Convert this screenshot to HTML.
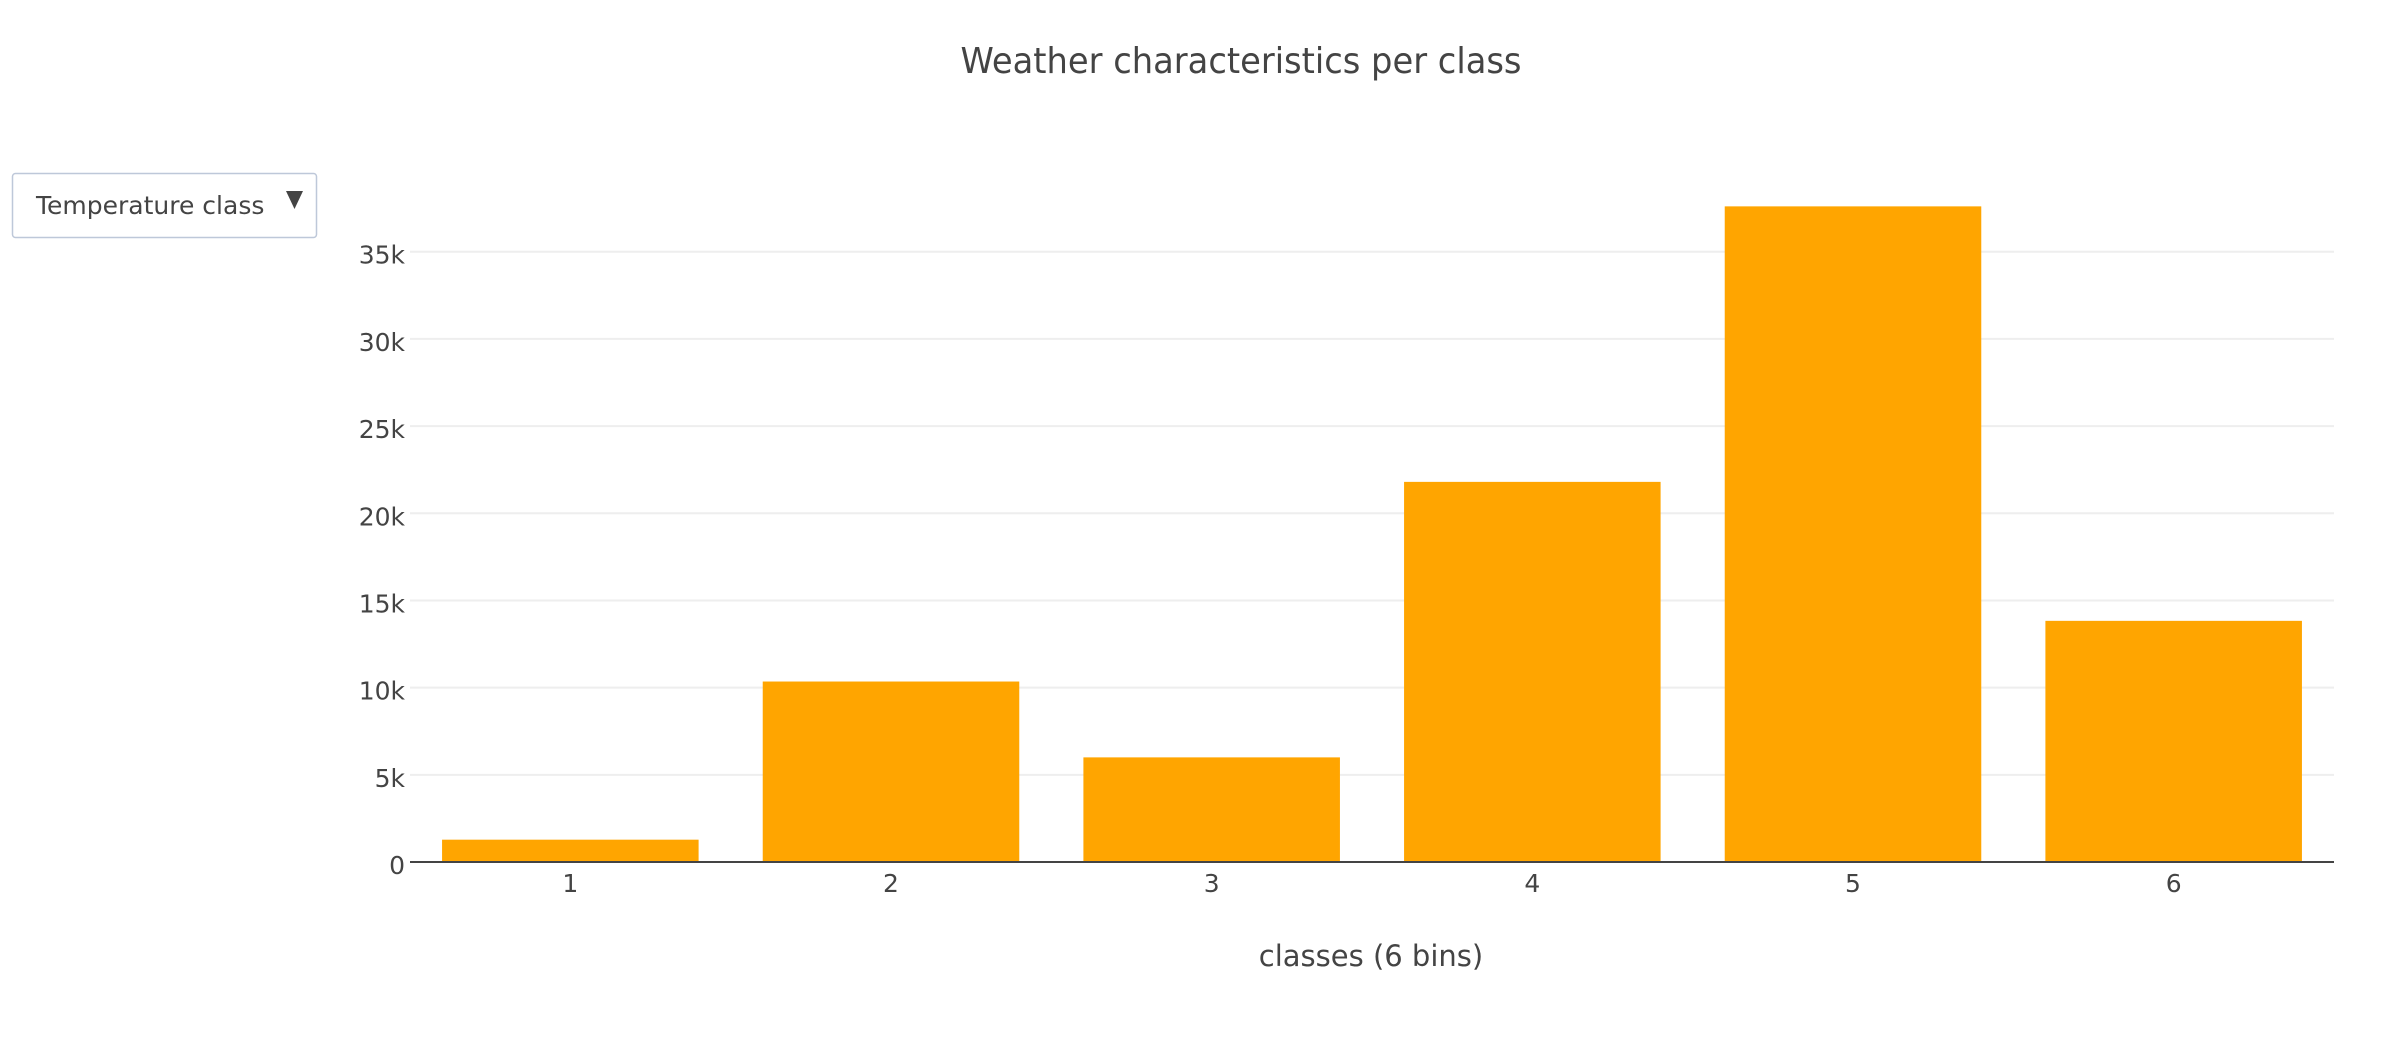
<!DOCTYPE html>
<html><head><meta charset="utf-8"><style>
html,body{margin:0;padding:0;background:#fff;width:2406px;height:1038px;overflow:hidden}
text{font-family:"DejaVu Sans","Liberation Sans",sans-serif;fill:#444}
</style></head><body>
<svg id="chart" width="2406" height="1038" xmlns="http://www.w3.org/2000/svg">
<text x="1241" y="73" font-size="36" text-anchor="middle" textLength="561" lengthAdjust="spacingAndGlyphs">Weather characteristics per class</text>
<g id="grid"></g>
<g id="bars"></g>
<g id="yticks"></g>
<g id="xticks"></g>
<line x1="410" x2="2334" y1="862" y2="862" stroke="#444" stroke-width="2"/>
<text x="1371" y="966" font-size="29" text-anchor="middle">classes (6 bins)</text>
<g>
<rect x="12.5" y="173.5" width="304" height="64" rx="3" fill="#fff" stroke="#bec8d9" stroke-width="1.5"/>
<text x="36" y="214" font-size="25">Temperature class</text>
<path d="M286 191 L303 191 L294.5 209 Z" fill="#444"/>
</g>
</svg>
<script>
const categories = ["1","2","3","4","5","6"];
const values = [1280, 10350, 6000, 21800, 37600, 13830];
const yTicks = [0, 5000, 10000, 15000, 20000, 25000, 30000, 35000];
const yTickLabels = ["0","5k","10k","15k","20k","25k","30k","35k"];

const NS = "http://www.w3.org/2000/svg";
const plotL = 410, plotR = 2334, y0 = 862, pxPer = (862 - 251.7) / 35000;
const band = (plotR - plotL) / categories.length;
function yScale(v){ return y0 - v * pxPer; }
function xCenter(i){ return plotL + band * (i + 0.5); }

const grid = document.getElementById('grid');
const yt = document.getElementById('yticks');
yTicks.forEach((t, i) => {
  if (t > 0) {
    const l = document.createElementNS(NS, 'line');
    
    
    l.setAttribute('x1', plotL); l.setAttribute('x2', plotR);
    l.setAttribute('y1', yScale(t)); l.setAttribute('y2', yScale(t));
    l.setAttribute('stroke', '#eee'); l.setAttribute('stroke-width', '2');
    grid.appendChild(l);
  }
  const tx = document.createElementNS(NS, 'text');
  
  
  tx.setAttribute('x', 405); tx.setAttribute('y', yScale(t) + 12);
  tx.setAttribute('font-size', '25'); tx.setAttribute('text-anchor', 'end');
  tx.textContent = yTickLabels[i];
  yt.appendChild(tx);
});

const bars = document.getElementById('bars');
const xt = document.getElementById('xticks');
categories.forEach((c, i) => {
  const w = band * 0.8;
  const r = document.createElementNS(NS, 'rect');
  
  
  r.setAttribute('x', xCenter(i) - w / 2); r.setAttribute('width', w);
  r.setAttribute('y', yScale(values[i])); r.setAttribute('height', y0 - yScale(values[i]));
  r.setAttribute('fill', '#ffa500');
  bars.appendChild(r);
  const tx = document.createElementNS(NS, 'text');
  
  
  tx.setAttribute('x', xCenter(i)); tx.setAttribute('y', 892);
  tx.setAttribute('font-size', '25'); tx.setAttribute('text-anchor', 'middle');
  tx.textContent = c;
  xt.appendChild(tx);
});
</script>
</body></html>
